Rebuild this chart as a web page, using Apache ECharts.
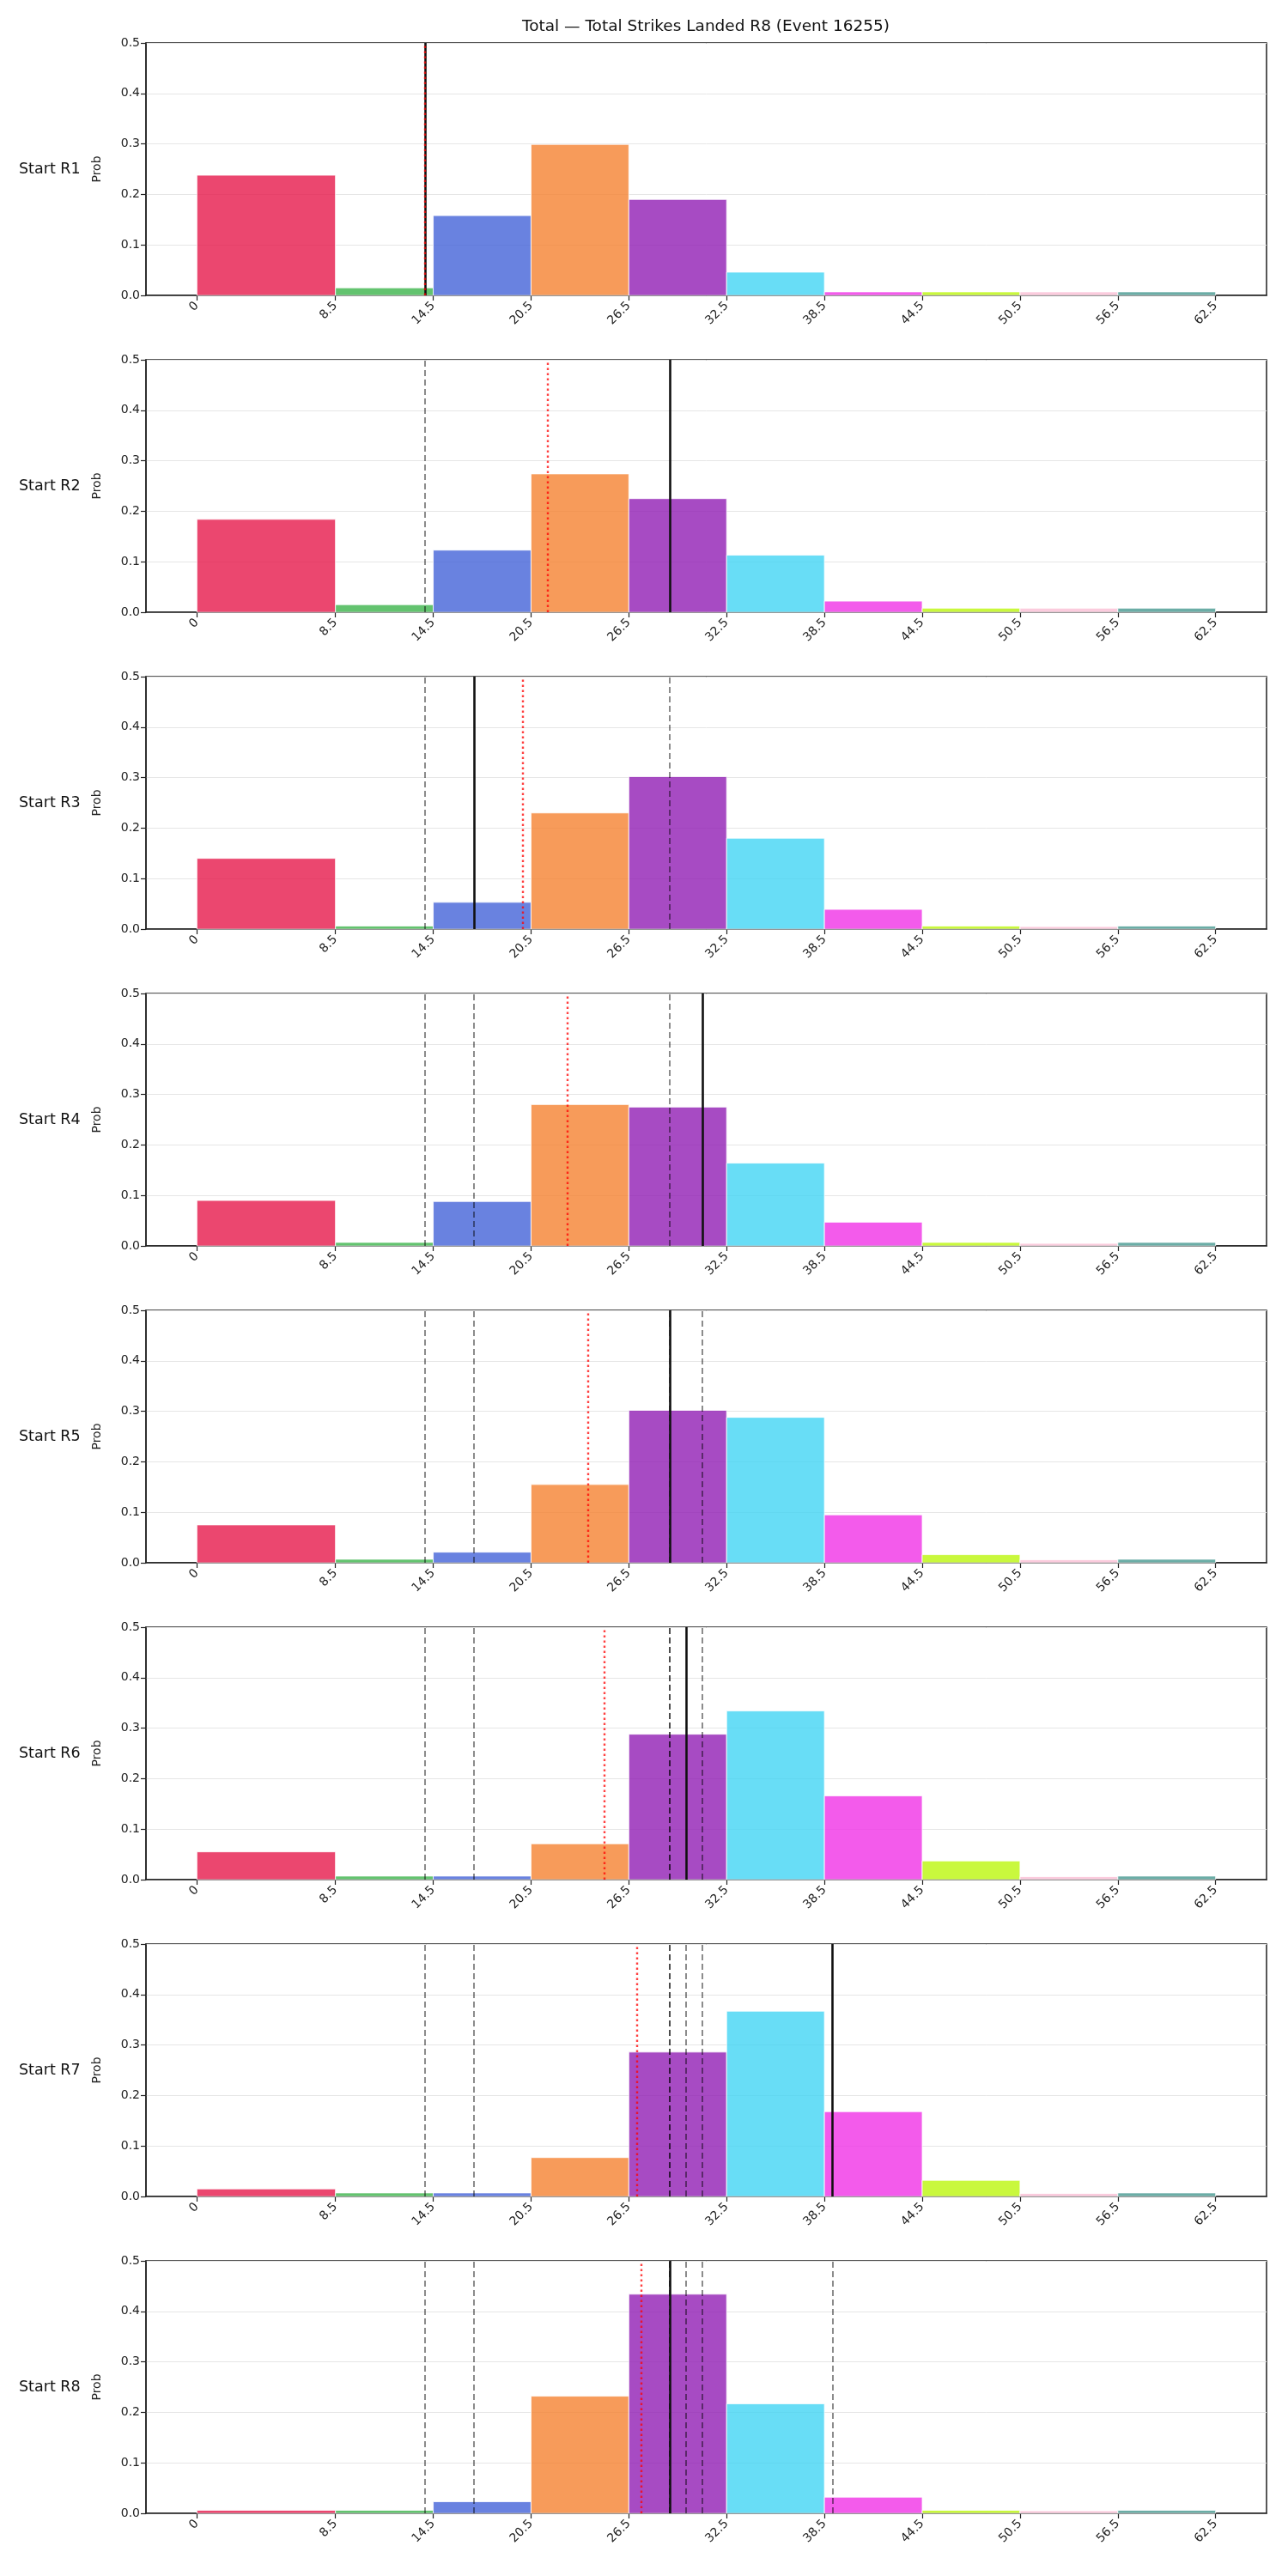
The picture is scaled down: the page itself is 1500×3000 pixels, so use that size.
<!DOCTYPE html>
<html>
<head>
<meta charset="utf-8">
<title>Total Strikes Landed R8</title>
<script src="https://cdn.jsdelivr.net/npm/echarts@6/dist/echarts.min.js"></script>
<style>
    body { margin: 0; background: #fff; }
    #main { width: 1500px; height: 3000px; }
</style>
</head>
<body>
<div id="main"></div>
<script>
// bin edges of the histogram (also the x tick labels)
var binEdges = [0, 8.5, 14.5, 20.5, 26.5, 32.5, 38.5, 44.5, 50.5, 56.5, 62.5];
var rowLabels = ['Start R1', 'Start R2', 'Start R3', 'Start R4', 'Start R5', 'Start R6', 'Start R7', 'Start R8'];

// probability of each bin, one array per starting round
var probR1 = [0.238, 0.015, 0.158, 0.299, 0.190, 0.046, 0.007, 0.007, 0.007, 0.007];
var probR2 = [0.184, 0.015, 0.123, 0.274, 0.225, 0.113, 0.022, 0.008, 0.008, 0.008];
var probR3 = [0.140, 0.006, 0.053, 0.230, 0.302, 0.180, 0.039, 0.006, 0.005, 0.006];
var probR4 = [0.090, 0.007, 0.088, 0.280, 0.275, 0.164, 0.047, 0.007, 0.005, 0.007];
var probR5 = [0.075, 0.007, 0.021, 0.155, 0.302, 0.288, 0.095, 0.016, 0.006, 0.007];
var probR6 = [0.055, 0.007, 0.007, 0.071, 0.288, 0.334, 0.166, 0.037, 0.006, 0.007];
var probR7 = [0.015, 0.007, 0.007, 0.077, 0.286, 0.367, 0.168, 0.032, 0.006, 0.007];
var probR8 = [0.006, 0.006, 0.023, 0.232, 0.434, 0.217, 0.032, 0.006, 0.005, 0.006];

// black solid line: value landed in that round (earlier rounds show as grey dashes)
var actualLanded = [14, 29, 17, 31, 29, 30, 39, 29];
// red dotted line: running mean
var runningMean = [14, 21.5, 20, 22.75, 24, 25, 27, 27.25];

var binColors = ['#e6194b', '#3cb44b', '#4363d8', '#f58231', '#911eb4',
                 '#42d4f4', '#f032e6', '#bcf60c', '#fabed4', '#469990'];

var probs = [probR1, probR2, probR3, probR4, probR5, probR6, probR7, probR8];
var FONT = 'DejaVu Sans';

// note: don't use a global called "top" here, it is window.top
function buildOption() {
    var grids = [], xAxes = [], yAxes = [], series = [], texts = [];
    var top0 = 50, step = 369, h = 294;

    texts.push({
        type: 'text', x: 822, y: 31,
        style: { text: 'Total \u2014 Total Strikes Landed R8 (Event 16255)', font: '18.5px ' + FONT,
                 fill: '#111', textAlign: 'center', textVerticalAlign: 'middle' }
    });

    for (var i = 0; i < probs.length; i++) {
        var gTop = top0 + step * i;
        grids.push({
            left: 170, right: 25, top: gTop, height: h,
            show: true, borderColor: '#222', borderWidth: 1.5
        });
        xAxes.push({
            gridIndex: i, type: 'value', min: -3.125, max: 65.625,
            splitLine: { show: false },
            axisLine: { show: true, onZero: false, lineStyle: { color: '#222', width: 1.5 } },
            axisTick: { show: true, customValues: binEdges, length: 6, lineStyle: { color: '#222', width: 1.2 } },
            axisLabel: { customValues: binEdges, rotate: 45, fontSize: 14, color: '#222', margin: 10, fontFamily: FONT }
        });
        yAxes.push({
            gridIndex: i, type: 'value', min: 0, max: 0.5, interval: 0.1,
            name: 'Prob', nameLocation: 'middle', nameGap: 50,
            nameTextStyle: { fontSize: 14, color: '#222', fontFamily: FONT },
            axisLine: { show: true, onZero: false, lineStyle: { color: '#222', width: 1.5 } },
            axisTick: { show: true, length: 6, lineStyle: { color: '#222', width: 1.2 } },
            axisLabel: { fontSize: 14, color: '#222', margin: 7, fontFamily: FONT,
                         formatter: function (v) { return v.toFixed(1); } },
            splitLine: { show: true, lineStyle: { color: '#e6e6e6', width: 1 } }
        });

        // histogram bars, one rect per bin
        var barData = [];
        for (var b = 0; b < binEdges.length - 1; b++) {
            barData.push([binEdges[b], binEdges[b + 1], probs[i][b], b]);
        }
        series.push({
            type: 'custom',
            xAxisIndex: i, yAxisIndex: i,
            encode: { x: [0, 1], y: 2 },
            data: barData,
            renderItem: function (params, api) {
                var p0 = api.coord([api.value(0), api.value(2)]);
                var p1 = api.coord([api.value(1), 0]);
                return {
                    type: 'rect',
                    shape: { x: p0[0], y: p0[1], width: p1[0] - p0[0], height: p1[1] - p0[1] },
                    style: { fill: binColors[api.value(3)], opacity: 0.8, stroke: '#fff', lineWidth: 1 }
                };
            }
        });

        // vertical reference lines
        var lines = [];
        for (var k = 0; k < i; k++) {
            lines.push({ xAxis: actualLanded[k],
                         lineStyle: { color: 'rgba(0,0,0,0.5)', width: 1.8, type: [7, 4] } });
        }
        lines.push({ xAxis: actualLanded[i], lineStyle: { color: '#111', width: 2.6, type: 'solid' } });
        lines.push({ xAxis: runningMean[i], lineStyle: { color: 'rgba(255,0,0,0.75)', width: 2.4, type: [2.5, 3.5] } });
        series.push({
            type: 'line',
            xAxisIndex: i, yAxisIndex: i,
            data: [],
            markLine: {
                symbol: ['none', 'none'],
                silent: true,
                label: { show: false },
                data: lines
            }
        });

        texts.push({
            type: 'text', x: 22, y: gTop + h / 2,
            style: { text: rowLabels[i], font: '17.5px ' + FONT, fill: '#111',
                     textAlign: 'left', textVerticalAlign: 'middle' }
        });
    }

    return {
        animation: false,
        backgroundColor: '#fff',
        grid: grids,
        xAxis: xAxes,
        yAxis: yAxes,
        series: series,
        graphic: texts
    };
}

var chart = echarts.init(document.getElementById('main'));
chart.setOption(buildOption());
</script>
</body>
</html>
